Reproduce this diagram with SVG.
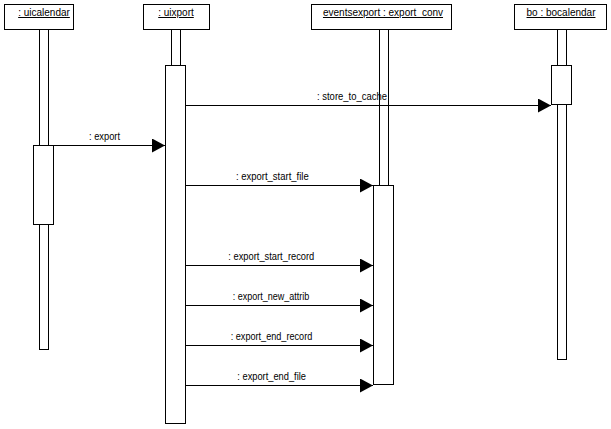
<svg xmlns="http://www.w3.org/2000/svg" width="611" height="429" viewBox="0 0 611 429">
<style>
.box{fill:#fff;stroke:#000;stroke-width:1}
.hd{font-family:"Liberation Sans",Arial,sans-serif;font-size:10px;text-decoration:underline;text-anchor:middle;fill:#000}
.lb{font-family:"Liberation Sans",Arial,sans-serif;font-size:10px;fill:#000}
.msg{stroke:#000;stroke-width:1;fill:none;marker-end:url(#ah)}
</style>
<defs>
<marker id="ah" viewBox="0 0 13 14" refX="13" refY="7" markerWidth="13" markerHeight="14" markerUnits="userSpaceOnUse" orient="auto">
<path d="M0,0 L13,7 L0,14 z" fill="#000"/>
</marker>
</defs>
<rect width="611" height="429" fill="#fff"/>
<g id="uicalendar">
<rect class="box" x="4.5" y="4.5" width="69" height="25"/>
<text class="hd" x="44" y="16">: uicalendar</text>
<rect class="box" x="39.5" y="29.5" width="9" height="320"/>
<rect class="box" x="33.5" y="145.5" width="20" height="79"/>
</g>
<g id="uixport">
<rect class="box" x="143.5" y="4.5" width="66" height="25"/>
<text class="hd" x="176" y="16">: uixport</text>
<rect class="box" x="171.5" y="29.5" width="9" height="36"/>
<rect class="box" x="165.5" y="65.5" width="20" height="358"/>
</g>
<g id="eventsexport">
<rect class="box" x="311.5" y="4.5" width="140" height="25"/>
<text class="hd" x="383" y="16">eventsexport : export_conv</text>
<rect class="box" x="379.5" y="29.5" width="9" height="156"/>
<rect class="box" x="373.5" y="185.5" width="20" height="199"/>
</g>
<g id="bocalendar">
<rect class="box" x="514.5" y="4.5" width="92" height="25"/>
<text class="hd" x="561" y="16">bo : bocalendar</text>
<rect class="box" x="557.5" y="29.5" width="9" height="330"/>
<rect class="box" x="551.5" y="65.5" width="20" height="39"/>
</g>
<g id="connectors">
<line class="msg" x1="185.5" y1="105.5" x2="551" y2="105.5"/>
<text class="lb" x="317" y="100" textLength="70" lengthAdjust="spacingAndGlyphs">: store_to_cache</text>
<line class="msg" x1="53.5" y1="145.5" x2="165" y2="145.5"/>
<text class="lb" x="89" y="140" textLength="31" lengthAdjust="spacingAndGlyphs">: export</text>
<line class="msg" x1="185.5" y1="185.5" x2="373" y2="185.5"/>
<text class="lb" x="236" y="180" textLength="72.7" lengthAdjust="spacingAndGlyphs">: export_start_file</text>
<line class="msg" x1="185.5" y1="265.5" x2="373" y2="265.5"/>
<text class="lb" x="228.3" y="260" textLength="86" lengthAdjust="spacingAndGlyphs">: export_start_record</text>
<line class="msg" x1="185.5" y1="305.5" x2="373" y2="305.5"/>
<text class="lb" x="232.7" y="300" textLength="76.6" lengthAdjust="spacingAndGlyphs">: export_new_attrib</text>
<line class="msg" x1="185.5" y1="345.5" x2="373" y2="345.5"/>
<text class="lb" x="230.7" y="340" textLength="81.6" lengthAdjust="spacingAndGlyphs">: export_end_record</text>
<line class="msg" x1="185.5" y1="385.5" x2="373" y2="385.5"/>
<text class="lb" x="237.3" y="380" textLength="68.7" lengthAdjust="spacingAndGlyphs">: export_end_file</text>
</g>
</svg>
